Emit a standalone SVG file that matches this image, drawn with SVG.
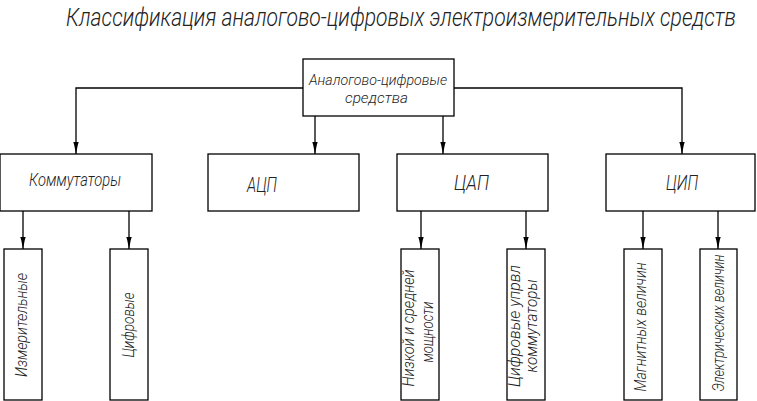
<svg xmlns="http://www.w3.org/2000/svg" width="757" height="401" viewBox="0 0 757 401">
<style>
.box{fill:#fff;stroke:#000;stroke-width:1.3}
.t{font-family:Roboto,"Liberation Sans","DejaVu Sans",sans-serif;font-style:italic;font-weight:300;fill:#222}
.c{fill:none;stroke:#000;stroke-width:1.3}
</style>
<defs>
<marker id="ar" markerUnits="userSpaceOnUse" viewBox="0 0 12 6" refX="12" refY="3" markerWidth="12" markerHeight="6" orient="auto">
<path d="M0,0.3 L3,1.2 L12,3 L3,4.8 L0,5.7 Z" fill="#000"/>
</marker>
</defs>
<rect width="757" height="401" fill="#fff"/>
<text class="t" transform="translate(66,26) scale(1,1.2)" x="0" y="0" font-size="21" textLength="670" lengthAdjust="spacingAndGlyphs">Классификация аналогово-цифровых электроизмерительных средств</text>

<g id="connectors">
<polyline class="c" points="303,88 76,88 76,154" marker-end="url(#ar)"/>
<polyline class="c" points="454,88 682,88 682,154" marker-end="url(#ar)"/>
<line class="c" x1="315" y1="116" x2="315" y2="154" marker-end="url(#ar)"/>
<line class="c" x1="443" y1="116" x2="443" y2="154" marker-end="url(#ar)"/>
<line class="c" x1="23" y1="211" x2="23" y2="249" marker-end="url(#ar)"/>
<line class="c" x1="129" y1="211" x2="129" y2="249" marker-end="url(#ar)"/>
<line class="c" x1="421" y1="211" x2="421" y2="249" marker-end="url(#ar)"/>
<line class="c" x1="526" y1="211" x2="526" y2="249" marker-end="url(#ar)"/>
<line class="c" x1="643" y1="211" x2="643" y2="249" marker-end="url(#ar)"/>
<line class="c" x1="718" y1="211" x2="718" y2="249" marker-end="url(#ar)"/>
</g>

<g id="root">
<rect class="box" x="303" y="59" width="151" height="57"/>
<text class="t" x="309" y="85" font-size="15" textLength="138" lengthAdjust="spacingAndGlyphs">Аналогово-цифровые</text>
<text class="t" x="345" y="103" font-size="15" textLength="63" lengthAdjust="spacingAndGlyphs">средства</text>
</g>

<g id="kommutatory">
<rect class="box" x="0" y="154" width="152" height="57"/>
<text class="t" x="29" y="186" font-size="19" textLength="92" lengthAdjust="spacingAndGlyphs">Коммутаторы</text>
</g>
<g id="acp">
<rect class="box" x="208" y="154" width="151" height="57"/>
<text class="t" x="247" y="192" font-size="21" textLength="30" lengthAdjust="spacingAndGlyphs">АЦП</text>
</g>
<g id="cap">
<rect class="box" x="397" y="154" width="151" height="57"/>
<text class="t" x="454" y="190" font-size="21" textLength="35" lengthAdjust="spacingAndGlyphs">ЦАП</text>
</g>
<g id="cip">
<rect class="box" x="606" y="154" width="149" height="57"/>
<text class="t" x="666" y="190" font-size="21" textLength="32" lengthAdjust="spacingAndGlyphs">ЦИП</text>
</g>

<g id="izmeritelnye">
<rect class="box" x="4" y="249" width="38" height="151"/>
<text class="t" transform="translate(27,325) rotate(-90)" text-anchor="middle" font-size="17" textLength="104" lengthAdjust="spacingAndGlyphs">Измерительные</text>
</g>
<g id="cifrovye">
<rect class="box" x="110" y="249" width="38" height="151"/>
<text class="t" transform="translate(134,325) rotate(-90)" text-anchor="middle" font-size="17" textLength="65" lengthAdjust="spacingAndGlyphs">Цифровые</text>
</g>
<g id="nizkoy">
<rect class="box" x="401" y="249" width="38" height="151"/>
<text class="t" transform="translate(414,328) rotate(-90)" text-anchor="middle" font-size="17" textLength="117" lengthAdjust="spacingAndGlyphs">Низкой и средней</text>
<text class="t" transform="translate(433,332) rotate(-90)" text-anchor="middle" font-size="17" textLength="61" lengthAdjust="spacingAndGlyphs">мощности</text>
</g>
<g id="cifr-upr">
<rect class="box" x="507" y="249" width="38" height="151"/>
<text class="t" transform="translate(520,326) rotate(-90)" text-anchor="middle" font-size="17" textLength="122" lengthAdjust="spacingAndGlyphs">Цифровые  упрвл</text>
<text class="t" transform="translate(537,326) rotate(-90)" text-anchor="middle" font-size="17" textLength="93" lengthAdjust="spacingAndGlyphs">коммутаторы</text>
</g>
<g id="magnitnyh">
<rect class="box" x="624" y="249" width="38" height="151"/>
<text class="t" transform="translate(646,327) rotate(-90)" text-anchor="middle" font-size="17" textLength="129" lengthAdjust="spacingAndGlyphs">Магнитных величин</text>
</g>
<g id="elektricheskih">
<rect class="box" x="700" y="249" width="37" height="151"/>
<text class="t" transform="translate(724,323) rotate(-90)" text-anchor="middle" font-size="16" textLength="137" lengthAdjust="spacingAndGlyphs">Электрических величин</text>
</g>
</svg>
